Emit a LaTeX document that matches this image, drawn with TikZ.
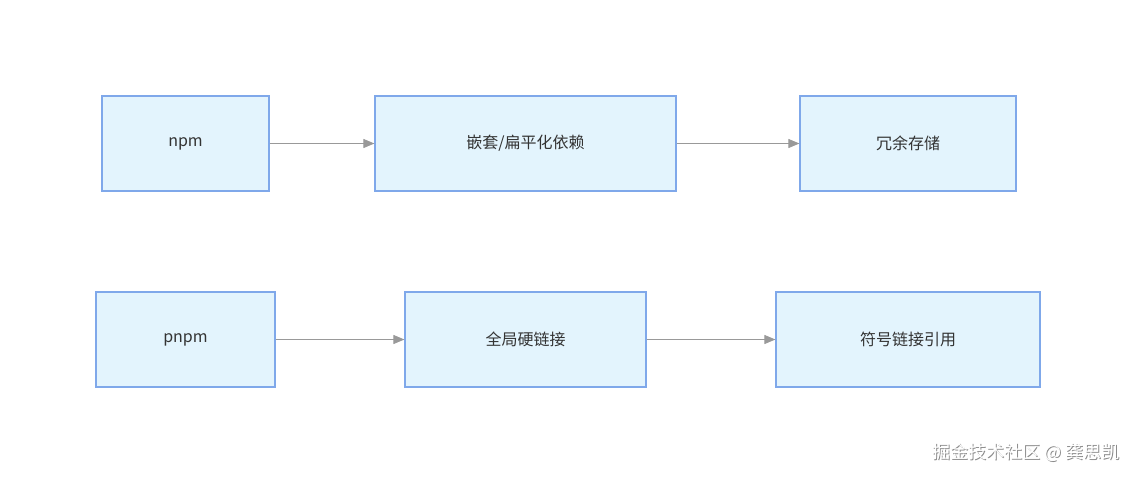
\documentclass[tikz,border=0pt]{standalone}
\usepackage{fontspec}
\setmainfont{Noto Sans}
\newfontfamily\cjk{Noto Sans CJK SC}
\usetikzlibrary{arrows.meta}
\definecolor{boxfill}{HTML}{E3F4FD}
\definecolor{boxline}{HTML}{7FA8EA}
\definecolor{arr}{HTML}{999999}
\definecolor{txt}{HTML}{333333}
\begin{document}
\begin{tikzpicture}[x=1pt,y=-1pt,
  box/.style={draw=boxline,fill=boxfill,line width=1.2pt,inner sep=0pt,text=txt,font=\cjk\fontsize{16}{18}\selectfont},
  conn/.style={draw=arr,line width=1pt,-{Triangle[length=11pt,width=9pt,fill=arr]}}]
\useasboundingbox (0,0) rectangle (1136,482);
\node[box,minimum width=167pt,minimum height=95pt] (npm) at (185.5,143.5) {npm};
\node[box,minimum width=301pt,minimum height=95pt] (nest) at (525.5,143.5) {嵌套/扁平化依赖};
\node[box,minimum width=216pt,minimum height=95pt] (red) at (908,143.5) {冗余存储};
\node[box,minimum width=179pt,minimum height=95pt] (pnpm) at (185.5,339.5) {pnpm};
\node[box,minimum width=241pt,minimum height=95pt] (hard) at (525.5,339.5) {全局硬链接};
\node[box,minimum width=264pt,minimum height=95pt] (sym) at (908,339.5) {符号链接引用};
\draw[conn] (npm) -- (nest);
\draw[conn] (nest) -- (red);
\draw[conn] (pnpm) -- (hard);
\draw[conn] (hard) -- (sym);
\node[text=white,font=\cjk\fontsize{18}{20}\selectfont,anchor=east,inner sep=0pt] (wm0) at (1121,453) {\color{black!45}掘金技术社区 @ 龚思凯};
\node[text=white,font=\cjk\fontsize{18}{20}\selectfont,anchor=east,inner sep=0pt] (wm) at (1120,452) {掘金技术社区 @ 龚思凯};
\end{tikzpicture}
\end{document}
